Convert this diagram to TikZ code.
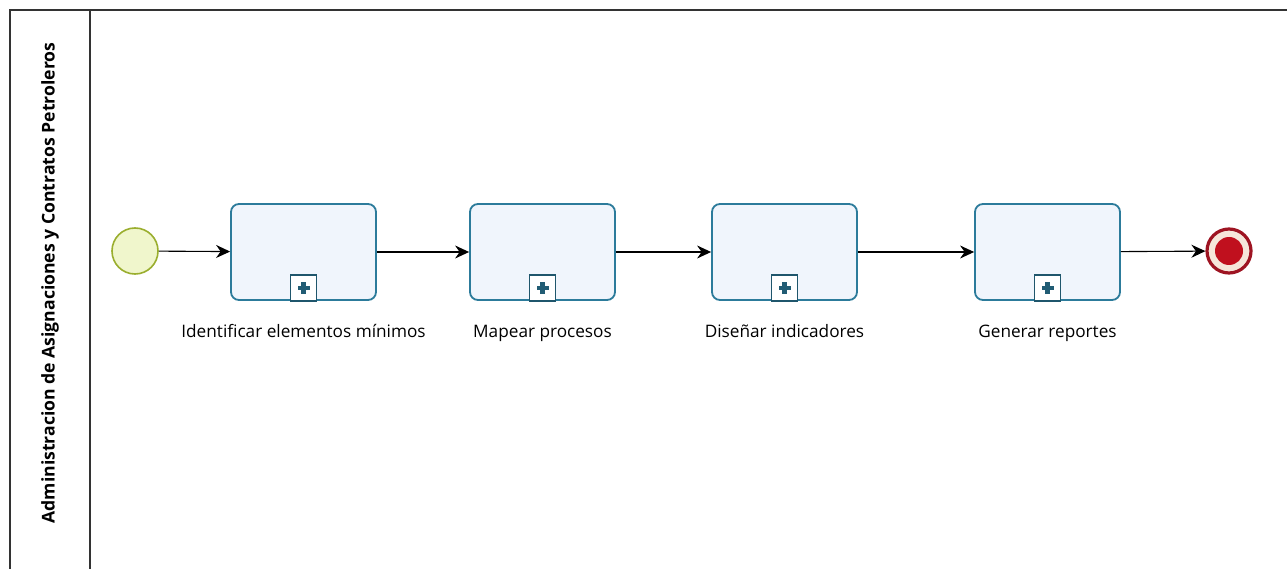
\documentclass[tikz,border=0pt]{standalone}
\usepackage{fontspec}
\setmainfont{Open Sans}
\usetikzlibrary{arrows.meta}
\definecolor{taskborder}{HTML}{2C7B9B}
\definecolor{taskfill}{HTML}{F0F5FC}
\definecolor{startfill}{HTML}{F0F6CC}
\definecolor{startborder}{HTML}{9AAE2E}
\definecolor{endborder}{HTML}{9E1422}
\definecolor{endfill}{HTML}{C0101E}
\definecolor{endring}{HTML}{F6E6DA}
\tikzset{
  x=1pt, y=-1pt,
  task/.style={draw=taskborder, line width=1.8pt, fill=taskfill, rounded corners=8pt,
    minimum width=145pt, minimum height=96pt, inner sep=0pt},
  marker/.style={draw=taskborder!70!black, line width=1.6pt, fill=white, minimum size=26pt, inner sep=0pt},
  startev/.style={circle, draw=startborder, line width=1.6pt, fill=startfill, minimum size=46pt, inner sep=0pt},
  endev/.style={circle, draw=endborder, line width=3.2pt, fill=endring, minimum size=44pt, inner sep=0pt},
  flow/.style={line width=1.1pt, -{Stealth[length=14pt, width=13pt]}},
  lbl/.style={font=\fontsize{17.2}{19}\selectfont, anchor=base},
}
\begin{document}
\begin{tikzpicture}
\useasboundingbox (0,0) rectangle (1287,569);
\fill[white] (0,0) rectangle (1287,569);
% pool
\draw[line width=1.6pt, draw=black!80] (10,569) -- (10,10) -- (1287,10);
\draw[line width=1.2pt, draw=black!80] (90,10) -- (90,569);
\node[rotate=90, font=\fontsize{17.6}{19}\selectfont\bfseries] (lane) at (50,283) {Administracion de Asignaciones y Contratos Petroleros};
% events
\node[startev] (start) at (135,251) {};
\node[endev] (end) at (1229,251) {};
\node[circle, fill=endfill, minimum size=28pt, inner sep=0pt] (endin) at (1229,251) {};
% tasks
\foreach \n/\cx/\t in {t1/303.5/Identificar elementos mínimos, t2/542.5/Mapear procesos, t3/784.5/Diseñar indicadores, t4/1047.5/Generar reportes}{
  \node[task] (\n) at (\cx,252) {};
  \node[marker] (\n m) at ([yshift=13pt]\n.south) {};
  \fill[taskborder!75!black] ([xshift=-6pt,yshift=-2.2pt]\n m.center) rectangle ([xshift=6pt,yshift=2.2pt]\n m.center);
  \fill[taskborder!75!black] ([xshift=-2.2pt,yshift=-6pt]\n m.center) rectangle ([xshift=2.2pt,yshift=6pt]\n m.center);
  \node[lbl] (\n l) at (\cx,337) {\t};
}
% flows
\draw[flow] (start) -- (t1);
\draw[flow] (t1) -- (t2);
\draw[flow] (t2) -- (t3);
\draw[flow] (t3) -- (t4);
\draw[flow] (t4) -- (end);
\end{tikzpicture}
\end{document}
